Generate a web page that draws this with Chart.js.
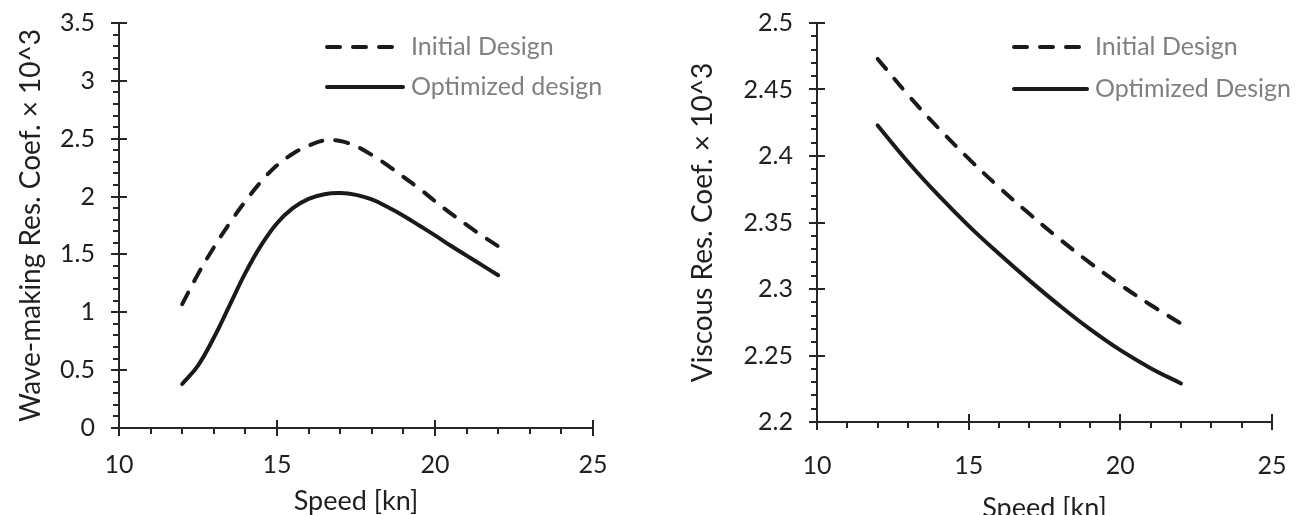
<!DOCTYPE html>
<html>
<head>
<meta charset="utf-8">
<script src="https://cdn.jsdelivr.net/npm/chart.js@4.4.1/dist/chart.umd.min.js"></script>
<style>
    html, body { margin: 0; padding: 0; background: #fff; }
    #wrap { position: relative; width: 1297px; height: 515px; overflow: hidden; }
    .box { position: absolute; top: 0; height: 515px; }
    #boxWave { left: 0; width: 648px; }
    #boxVisc { left: 648px; width: 649px; }
</style>
</head>
<body>
<div id="wrap">
    <div class="box" id="boxWave"><canvas id="waveChart"></canvas></div>
    <div class="box" id="boxVisc"><canvas id="viscChart"></canvas></div>
</div>
<script>
// speed [kn] for the wave-making curves
const waveSpeeds = [12, 12.5, 13, 13.5, 14, 14.5, 15, 15.5, 16, 16.5, 17, 17.5, 18, 18.5, 19, 19.5, 20, 20.5, 21, 21.5, 22];

// wave-making resistance coefficient x 10^3
const waveInitial   = [1.07, 1.33, 1.56, 1.77, 1.96, 2.13, 2.27, 2.37, 2.44, 2.485, 2.48, 2.435, 2.36, 2.27, 2.17, 2.07, 1.96, 1.855, 1.755, 1.66, 1.57];
const waveOptimized = [0.38, 0.54, 0.78, 1.06, 1.34, 1.58, 1.77, 1.90, 1.98, 2.02, 2.03, 2.015, 1.975, 1.91, 1.835, 1.75, 1.665, 1.575, 1.49, 1.405, 1.32];

// speed [kn] for the viscous curves
const viscSpeeds = [12, 13, 14, 15, 16, 17, 18, 19, 20, 21, 22];

// viscous resistance coefficient x 10^3
const viscInitial   = [2.473, 2.446, 2.421, 2.398, 2.3765, 2.3565, 2.3375, 2.3197, 2.3032, 2.288, 2.274];
const viscOptimized = [2.423, 2.3955, 2.3705, 2.3475, 2.3265, 2.3065, 2.2875, 2.2698, 2.254, 2.2405, 2.229];

const labelsWave = ['Initial Design', 'Optimized design'];
const labelsVisc = ['Initial Design', 'Optimized Design'];

const fontFamily = "Lato, 'Open Sans', sans-serif";
const axisColor = '#262626';
const textColor = '#1f1f1f';

function isMajor(value, step) {
    const r = value / step;
    return Math.abs(r - Math.round(r)) < 1e-6;
}

function fmt(value) {
    return parseFloat(value.toFixed(3)).toString();
}

// long major tick marks crossing the axes + legend drawn inside the plot
const extrasPlugin = {
    id: 'extras',
    afterDraw(chart, args, opts) {
        const ctx = chart.ctx;
        const area = chart.chartArea;
        const xs = chart.scales.x;
        const ys = chart.scales.y;
        ctx.save();
        ctx.strokeStyle = axisColor;
        ctx.lineWidth = 2;
        ctx.beginPath();
        xs.ticks.forEach(t => {
            if (isMajor(t.value, opts.xMajor)) {
                const px = Math.round(xs.getPixelForValue(t.value));
                ctx.moveTo(px, area.bottom + 8);
                ctx.lineTo(px, area.bottom - 8);
            }
        });
        ys.ticks.forEach(t => {
            if (isMajor(t.value, opts.yMajor)) {
                const py = Math.round(ys.getPixelForValue(t.value));
                ctx.moveTo(area.left - 8, py);
                ctx.lineTo(area.left + 8, py);
            }
        });
        ctx.stroke();

        // legend
        ctx.font = '25px ' + fontFamily;
        ctx.textBaseline = 'middle';
        ctx.textAlign = 'left';
        chart.data.datasets.forEach((ds, i) => {
            const y = opts.legendY[i];
            ctx.beginPath();
            ctx.strokeStyle = ds.borderColor;
            ctx.lineWidth = ds.borderWidth;
            ctx.lineCap = 'round';
            ctx.setLineDash(ds.borderDash || []);
            ctx.moveTo(opts.legendX + 2, y);
            ctx.lineTo(opts.legendX + opts.legendLen - 2, y);
            ctx.stroke();
            ctx.setLineDash([]);
            ctx.fillStyle = '#808080';
            ctx.fillText(ds.label, opts.legendX + opts.legendLen + 6, y);
        });
        ctx.restore();
    }
};

function makeChart(canvasId, cfg) {
    return new Chart(document.getElementById(canvasId).getContext('2d'), {
        type: 'line',
        data: {
            datasets: [
                {
                    label: cfg.names[0],
                    data: cfg.speeds.map((s, i) => ({ x: s, y: cfg.initial[i] })),
                    borderColor: '#1a1a1a',
                    borderWidth: 4,
                    borderDash: [13, 13],
                    borderCapStyle: 'round',
                    pointRadius: 0,
                    tension: 0.4,
                    fill: false
                },
                {
                    label: cfg.names[1],
                    data: cfg.speeds.map((s, i) => ({ x: s, y: cfg.optimized[i] })),
                    borderColor: '#1a1a1a',
                    borderWidth: 4,
                    borderCapStyle: 'round',
                    pointRadius: 0,
                    tension: 0.4,
                    fill: false
                }
            ]
        },
        options: {
            responsive: true,
            maintainAspectRatio: false,
            animation: false,
            events: [],
            layout: {
                padding: { top: 23, right: cfg.padRight, bottom: 0, left: 0 }
            },
            plugins: {
                legend: { display: false },
                tooltip: { enabled: false },
                extras: {
                    xMajor: 5,
                    yMajor: cfg.yMajor,
                    legendX: cfg.legendX,
                    legendLen: cfg.legendLen,
                    legendY: cfg.legendY
                }
            },
            scales: {
                x: {
                    type: 'linear',
                    min: 10,
                    max: 25,
                    afterFit: (scale) => {
                        scale.height = cfg.xHeight;
                        scale.paddingLeft = 0;
                        scale.paddingRight = 0;
                    },
                    border: { display: true, color: axisColor, width: 2 },
                    grid: { drawOnChartArea: false, color: axisColor, lineWidth: 2, tickLength: 6 },
                    ticks: {
                        stepSize: 1,
                        autoSkip: false,
                        maxRotation: 0,
                        padding: cfg.xTickPad,
                        color: textColor,
                        font: { size: 25, family: fontFamily },
                        callback: (v) => isMajor(v, 5) ? fmt(v) : ''
                    },
                    title: {
                        display: true,
                        text: 'Speed [kn]',
                        color: textColor,
                        font: { size: 27, family: fontFamily },
                        padding: { top: 0, bottom: cfg.xTitlePad }
                    }
                },
                y: {
                    type: 'linear',
                    min: cfg.yMin,
                    max: cfg.yMax,
                    afterFit: (scale) => {
                        scale.width = cfg.yWidth;
                        scale.paddingTop = 0;
                        scale.paddingBottom = 0;
                    },
                    border: { display: true, color: axisColor, width: 2 },
                    grid: { drawOnChartArea: false, color: axisColor, lineWidth: 2, tickLength: 6 },
                    ticks: {
                        stepSize: cfg.yMinor,
                        autoSkip: false,
                        padding: 18,
                        color: textColor,
                        font: { size: 25, family: fontFamily },
                        callback: (v) => isMajor(v, cfg.yMajor) ? fmt(v) : ''
                    },
                    title: {
                        display: true,
                        text: cfg.yTitle,
                        color: textColor,
                        font: { size: 28, family: fontFamily },
                        padding: { top: cfg.yTitlePad, bottom: 0 }
                    }
                }
            }
        },
        plugins: [extrasPlugin]
    });
}

makeChart('waveChart', {
    names: labelsWave,
    speeds: waveSpeeds,
    initial: waveInitial,
    optimized: waveOptimized,
    yMin: 0, yMax: 3.5, yMajor: 0.5, yMinor: 0.1,
    yTitle: 'Wave-making Res. Coef. \u00d7 10^3',
    yWidth: 119, padRight: 55, xHeight: 87,
    yTitlePad: 14, xTitlePad: -2, xTickPad: 16,
    legendX: 325, legendLen: 80, legendY: [47, 87]
});

makeChart('viscChart', {
    names: labelsVisc,
    speeds: viscSpeeds,
    initial: viscInitial,
    optimized: viscOptimized,
    yMin: 2.2, yMax: 2.5, yMajor: 0.05, yMinor: 0.01,
    yTitle: 'Viscous Res. Coef. \u00d7 10^3',
    yWidth: 169, padRight: 25, xHeight: 93,
    yTitlePad: 38, xTitlePad: -9, xTickPad: 23,
    legendX: 364, legendLen: 77, legendY: [47, 89]
});
</script>
</body>
</html>
